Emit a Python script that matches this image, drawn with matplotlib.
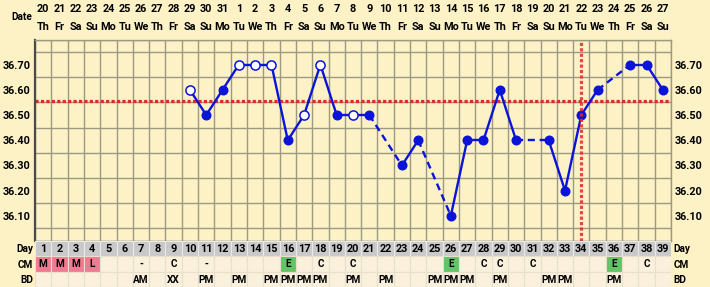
import numpy as np
import matplotlib
matplotlib.use('Agg')
import matplotlib.pyplot as plt
import matplotlib.transforms as mtransforms
from matplotlib.patches import Rectangle

plt.rcParams['font.family'] = ['Roboto', 'DejaVu Sans']
plt.rcParams['font.weight'] = 'bold'

# ---- data ----
days = list(range(1, 40))
dates = list(range(20, 32)) + list(range(1, 28))
weekdays = (['Th', 'Fr', 'Sa', 'Su', 'Mo', 'Tu', 'We'] * 6)[:39]
temps = [None] * 9 + [36.60, 36.50, 36.60, 36.70, 36.70, 36.70, 36.40, 36.50,
                      36.70, 36.50, 36.50, 36.50, None, 36.30, 36.40, None,
                      36.10, 36.40, 36.40, 36.60, 36.40, None, 36.40, 36.20,
                      36.50, 36.60, None, 36.70, 36.70, 36.60]
open_days = [10, 13, 14, 15, 17, 18, 20]
coverline = 36.555
ovulation_day = 34

cm = {1: 'M', 2: 'M', 3: 'M', 4: 'L', 7: '-', 9: 'C', 11: '-', 16: 'E',
      18: 'C', 20: 'C', 26: 'E', 28: 'C', 29: 'C', 31: 'C', 36: 'E', 38: 'C'}
bd = {7: 'AM', 9: 'XX', 11: 'PM', 13: 'PM', 15: 'PM', 16: 'PM', 17: 'PM',
      18: 'PM', 20: 'PM', 22: 'PM', 25: 'PM', 26: 'PM', 27: 'PM', 29: 'PM',
      32: 'PM', 33: 'PM', 36: 'PM'}

bg = '#fdf2c6'
grid_c = '#9d9982'
blue = '#0a14d8'
red = '#dd2a2a'
fs = 7.8

fig = plt.figure(figsize=(7.1, 2.87), dpi=100, facecolor=bg)
W, H = 710, 287
x0, x1 = 35, 671
y_top, y_bot = 39.5, 241

ax = fig.add_axes([x0 / W, (H - y_bot) / H, (x1 - x0) / W, (y_bot - y_top) / H])
ax.set_facecolor(bg)
ax.set_xlim(0.5, 39.5)
ax.set_ylim(36.0, 36.8)

ax.set_xticks([])
ax.set_xticks(np.arange(0.5, 40, 1), minor=True)
ax.set_yticks(np.arange(36.1, 36.75, 0.1))
ax.set_yticklabels(['%.2f' % v for v in np.arange(36.1, 36.75, 0.1)])
ax.set_yticks(np.arange(36.0, 36.81, 0.05), minor=True)
ax.grid(True, which='minor', color=grid_c, lw=1.0)
ax.tick_params(axis='both', which='both', length=0)
ax.tick_params(axis='y', which='major', labelleft=True, labelright=True,
               labelsize=fs, pad=3)
for s in ['top', 'right', 'bottom']:
    ax.spines[s].set_color(grid_c)
    ax.spines[s].set_linewidth(1.0)
ax.spines['left'].set_color('#4a4a4a')
ax.spines['left'].set_linewidth(1.6)

# coverline and ovulation line
ax.axhline(coverline, color=red, lw=2.3, dashes=(1.0, 0.7), zorder=2)
ax.axvline(ovulation_day, color=red, lw=2.3, dashes=(1.0, 0.7), zorder=6, alpha=0.85)

# temperature line
pts = [(d, t) for d, t in zip(days, temps) if t is not None]
for (da, ta), (db, tb) in zip(pts[:-1], pts[1:]):
    ls = '-' if db - da == 1 else '--'
    ax.plot([da, db], [ta, tb], color=blue, lw=1.7, ls=ls, zorder=3,
            dashes=(3, 2) if ls == '--' else (None, None))
for d, t in pts:
    if d in open_days:
        ax.plot(d, t, 'o', ms=6.6, mfc='white', mec=blue, mew=1.1, zorder=4)
    else:
        ax.plot(d, t, 'o', ms=6.2, mfc=blue, mec=blue, zorder=4)

# header: dates and weekdays
tr = mtransforms.blended_transform_factory(ax.transData, ax.transAxes)
for d, dt, wd in zip(days, dates, weekdays):
    ax.text(d, 1 + 31 / 201.5, str(dt), transform=tr, ha='center', va='center', fontsize=fs)
    ax.text(d, 1 + 13 / 201.5, wd, transform=tr, ha='center', va='center', fontsize=fs)
ax.text(0.36, 1 + 23 / 201.5, 'Date', transform=tr, ha='right', va='center',
        fontsize=fs - 0.6)

# table
tab = fig.add_axes([x0 / W, 0, (x1 - x0) / W, (H - y_bot) / H])
tab.set_xlim(0.5, 39.5)
tab.set_ylim(3, 0)
tab.axis('off')
tab.patch.set_visible(False)
for d in days:
    tab.add_patch(Rectangle((d - 0.5, 0), 1, 1, fc='#c9c9c9', ec='#eaeaea', lw=0.8))
    c = cm.get(d, '')
    fc = '#faf0dc'
    if c in ('M', 'L'):
        fc = '#f07a92'
    elif c == 'E':
        fc = '#62c466'
    tab.add_patch(Rectangle((d - 0.5, 1), 1, 1, fc=fc, ec='#e6e0cc', lw=0.8))
    tab.add_patch(Rectangle((d - 0.5, 2), 1, 1, fc='#faf0dc', ec='#e6e0cc', lw=0.8))
    tab.text(d, 0.5, str(d), ha='center', va='center', fontsize=fs)
    if c:
        tab.text(d, 1.5, c, ha='center', va='center', fontsize=fs - 0.6)
    if d in bd:
        tab.text(d, 2.55, bd[d], ha='center', va='center', fontsize=fs - 0.6)

for i, lab in enumerate(['Day', 'CM', 'BD']):
    tab.text(0.4, i + 0.55, lab, ha='right', va='center', fontsize=fs - 0.6)
    tab.text(39.65, i + 0.55, lab, ha='left', va='center', fontsize=fs - 0.6)

fig.savefig('out.png', dpi=100, facecolor=bg)
